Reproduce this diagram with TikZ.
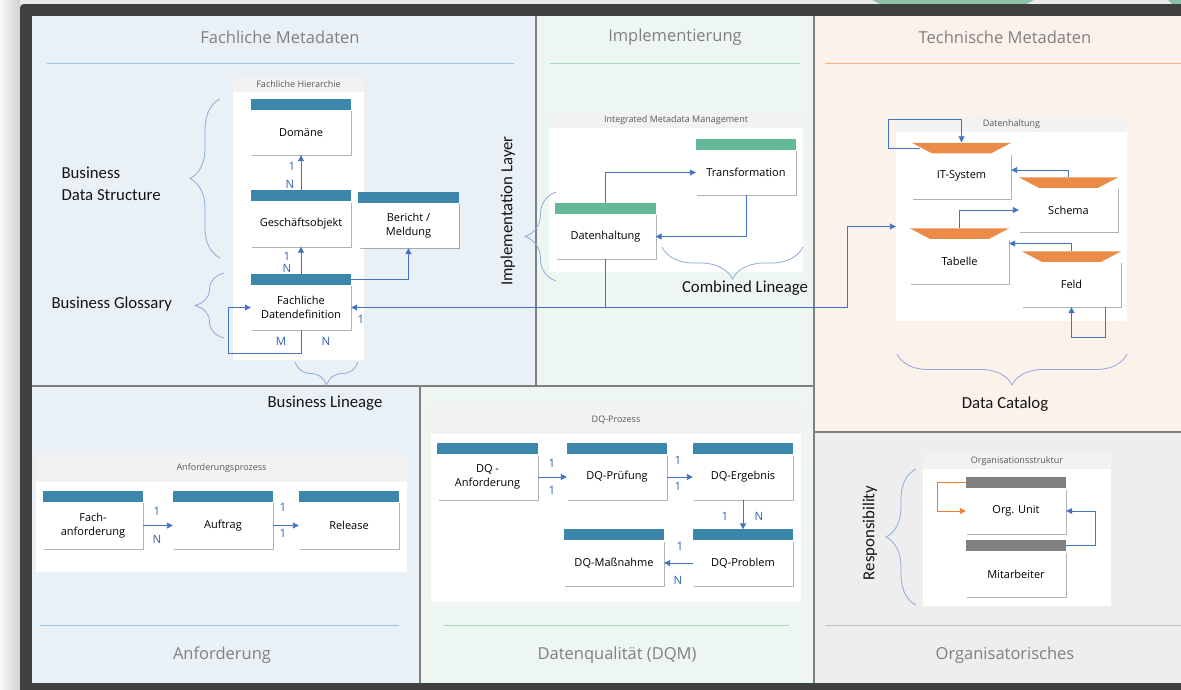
\documentclass[tikz,border=0pt]{standalone}
\usepackage{fontspec}
\setmainfont{Open Sans}
\newfontfamily\lblfont{Carlito}
\usepackage{xcolor}
\usepackage{tikz}
\usetikzlibrary{calc,arrows.meta,decorations.pathreplacing,shadows}

\definecolor{frame}{RGB}{64,64,64}
\definecolor{divider}{RGB}{128,128,128}
\definecolor{fachbg}{RGB}{234,241,246}
\definecolor{implbg}{RGB}{238,246,241}
\definecolor{techbg}{RGB}{252,242,236}
\definecolor{orgbg}{RGB}{238,238,238}
\definecolor{hdblue}{RGB}{60,134,172}
\definecolor{hdgreen}{RGB}{100,185,150}
\definecolor{hdorange}{RGB}{234,140,72}
\definecolor{hdgray}{RGB}{128,128,128}
\definecolor{linkblue}{RGB}{68,114,196}
\definecolor{cardblue}{RGB}{46,99,176}
\definecolor{bracecol}{RGB}{143,170,220}
\definecolor{titlegray}{RGB}{128,128,128}
\definecolor{lineblue}{RGB}{157,195,230}
\definecolor{linegreen}{RGB}{169,216,192}
\definecolor{lineorange}{RGB}{244,177,131}
\definecolor{linegray}{RGB}{191,191,191}
\definecolor{orangelink}{RGB}{237,125,49}
\definecolor{topgreen}{RGB}{140,192,168}

\begin{document}
\begin{tikzpicture}[x=1pt,y=-1pt,
		ptitle/.style={text=titlegray,font=\fontsize{16.5}{20}\selectfont},
		lbl/.style={text=black!92,font=\lblfont\fontsize{16.8}{22}\selectfont},
		chead/.style={fill=black!5,text=black!65,font=\fontsize{9}{11}\selectfont,inner sep=0pt,anchor=south},
		cbox/.style={fill=white,inner sep=0pt},
		ent/.style={fill=white,minimum width=100pt,minimum height=45pt,inner sep=2pt,align=center,
			font=\fontsize{11}{14.5}\selectfont,
			drop shadow={shadow xshift=1.3pt,shadow yshift=-1.3pt,opacity=.3,fill=black}},
		conn/.style={draw=linkblue,line width=.9pt,-{Triangle[length=6pt,width=6pt]}},
		card/.style={text=cardblue,font=\fontsize{11.5}{13}\selectfont,inner sep=0pt},
		brc/.style={draw=bracecol,line width=.8pt,decorate,decoration={brace,amplitude=#1}},
	]
	\useasboundingbox (0,0) rectangle (1181,689);
	% page and frame
	\fill[black!8] (0,0) rectangle (1181,689);
	\shade[left color=black!3,right color=black!18] (0,0) rectangle (20,689);
	\fill[topgreen] (872,0) -- (1034,0) -- (1026,4) -- (880,4) -- cycle;
	\fill[topgreen] (1168,0) -- (1181,0) -- (1181,4) -- (1172,4) -- cycle;
	\fill[frame,rounded corners=4pt] (20,4) rectangle (1200,710);

	% panels
	\fill[fachbg] (32,16) rectangle (536,386);
	\fill[implbg] (536,16) rectangle (814,386);
	\fill[techbg] (814,16) rectangle (1181,432);
	\fill[fachbg] (32,386) rectangle (420,683);
	\fill[implbg] (420,386) rectangle (814,683);
	\fill[orgbg] (814,432) rectangle (1181,683);
	\draw[divider,line width=2.5pt] (536,16) -- (536,386) (32,386) -- (814,386)
		(814,16) -- (814,683) (814,432) -- (1181,432) (420,386) -- (420,683);

	\node[ptitle] (tfach) at (280,37) {Fachliche Metadaten};
	\node[ptitle] (timpl) at (675,37) {Implementierung};
	\node[ptitle] (ttech) at (1005,37) {Technische Metadaten};
	\node[ptitle] (tanf) at (222,655) {Anforderung};
	\node[ptitle] (tdqm) at (617,655) {Datenqualität (DQM)};
	\node[ptitle] (torg) at (1005,655) {Organisatorisches};
	\draw[lineblue,line width=.8pt] (47,63) -- (514,63);
	\draw[linegreen,line width=.8pt] (550,63) -- (800,63);
	\draw[lineorange,line width=.8pt] (825,63) -- (1181,63);
	\draw[lineblue,line width=.8pt] (40,625) -- (399,625);
	\draw[linegreen,line width=.8pt] (444,625) -- (789,625);
	\draw[linegray,line width=.8pt] (825,625) -- (1181,625);

	% Fachliche Hierarchie
	\node[cbox,minimum width=131pt,minimum height=268pt] (fh) at (298.5,226) {};
	\node[chead,minimum width=131pt,minimum height=14pt] (fhh) at (fh.north) {Fachliche Hierarchie};
	\node[ent] (dom) at (301,132.5) {Domäne};
	\node[ent] (geo) at (301,224) {Geschäftsobjekt};
	\node[ent] (ber) at (408.5,225.5) {Bericht /\\Meldung};
	\node[ent] (ddef) at (301,307.5) {Fachliche\\Datendefinition};

	% Implementierung
	\node[cbox,minimum width=254pt,minimum height=144pt] (imm) at (676,200) {};
	\node[chead,minimum width=254pt,minimum height=14pt] (immh) at (imm.north) {Integrated Metadata Management};
	\node[ent] (trf) at (746,172.5) {Transformation};
	\node[ent] (dhi) at (605.5,236.5) {Datenhaltung};

	% Technische Metadaten
	\node[cbox,minimum width=231pt,minimum height=189pt] (dht) at (1011.5,226.5) {};
	\node[chead,minimum width=231pt,minimum height=15pt] (dhth) at (dht.north) {Datenhaltung};
	\node[ent,minimum width=99pt] (its) at (961.5,176) {IT-System};
	\node[ent,minimum width=99pt,minimum height=44pt] (sch) at (1068.5,210) {Schema};
	\node[ent,minimum width=99pt] (tab) at (959.5,261.5) {Tabelle};
	\node[ent,minimum width=99pt] (fld) at (1071.5,284.5) {Feld};

	% Organisatorisches
	\node[cbox,minimum width=188pt,minimum height=137pt] (ost) at (1017,537.5) {};
	\node[chead,minimum width=188pt,minimum height=15pt] (osth) at (ost.north) {Organisationsstruktur};
	\node[ent] (org) at (1016,511) {Org. Unit};
	\node[ent] (mit) at (1016,574) {Mitarbeiter};

	% Anforderung
	\node[cbox,minimum width=371pt,minimum height=90pt] (anf) at (221.5,527) {};
	\node[chead,minimum width=371pt,minimum height=27pt] (anfh) at (anf.north) {Anforderungsprozess};
	\node[ent,minimum height=47pt] (fach) at (93,525.5) {Fach-\\anforderung};
	\node[ent,minimum height=47pt] (auf) at (223,525.5) {Auftrag};
	\node[ent,minimum height=47pt] (rel) at (349,525.5) {Release};

	% DQ
	\node[cbox,minimum width=370pt,minimum height=168pt] (dqc) at (616,518) {};
	\node[chead,minimum width=370pt,minimum height=27pt] (dqch) at (dqc.north) {DQ-Prozess};
	\node[ent] (dqa) at (487.5,477) {DQ -\\Anforderung};
	\node[ent] (dqp) at (617,477) {DQ-Prüfung};
	\node[ent] (dqe) at (743,477) {DQ-Ergebnis};
	\node[ent] (dqm) at (614,563) {DQ-Maßnahme};
	\node[ent] (dqpr) at (743,563) {DQ-Problem};

	% headers
	\foreach \n in {dom,geo,ber,ddef,fach,auf,rel,dqa,dqp,dqe,dqm,dqpr}
		\fill[hdblue] ([yshift=11pt]\n.north west) rectangle (\n.north east);
	\foreach \n in {trf,dhi}
		\fill[hdgreen] ([yshift=11pt]\n.north west) rectangle (\n.north east);
	\foreach \n in {org,mit}
		\fill[hdgray] ([yshift=11pt]\n.north west) rectangle (\n.north east);
	\foreach \n in {its,sch,tab,fld}
		\fill[hdorange] ([yshift=10.5pt]\n.north west) -- ([yshift=10.5pt]\n.north east)
			-- ([xshift=-20pt]\n.north east) -- ([xshift=20pt]\n.north west) -- cycle;

	% connectors
	\draw[conn] ([yshift=11pt]geo.north) -- (dom.south);
	\draw[conn] ([yshift=11pt]ddef.north) -- (geo.south);
	\draw[conn] ([yshift=5.5pt]ddef.north east) -| (ber.south);
	\draw[conn] (ddef.south) -- ++(0,23) -| ([xshift=-22pt]ddef.west) -- (ddef.west);

	\draw[conn] ([yshift=11pt]dhi.north) |- (trf.west);
	\draw[conn] (trf.south) |- (dhi.east);
	\coordinate (jn) at (dhi.south |- ddef.east);
	\draw[conn] (dhi.south) -- (jn) -- (ddef.east);
	\draw[conn] (jn) -| ([xshift=-48pt]dht.west) -- (dht.west);

	\draw[conn] ([shift={(8,-5)}]its.north west) -- ++(-31,0) |- ([yshift=34pt]its.north) -- ([yshift=11pt]its.north);
	\draw[conn] ([yshift=10.5pt]sch.north) |- ([yshift=6pt]its.east);
	\draw[conn] ([yshift=10.5pt]tab.north) |- (sch.west);
	\draw[conn] ([yshift=10.5pt]fld.north) |- ([yshift=18pt]tab.east);
	\draw[conn] ([xshift=-16pt]fld.south east) -- ++(0,30) -| (fld.south);

	\draw[conn,draw=orangelink] ([yshift=5.5pt]org.north west) -- ++(-28,0) |- (org.west);
	\draw[conn] ([yshift=5.5pt]mit.north east) -- ++(29,0) |- (org.east);

	\draw[conn] (fach) -- (auf);
	\draw[conn] (auf) -- (rel);

	\draw[conn] (dqa) -- (dqp);
	\draw[conn] (dqp) -- (dqe);
	\draw[conn] (dqe.south) -- ([yshift=11pt]dqpr.north);
	\draw[conn] (dqpr) -- (dqm);

	% cardinalities
	\foreach \x/\y/\t [count=\i] in {292/166/1,290/184/N,287/256/1,287/268/N,281/341/M,326/341/N,361/319/1,
			157/511/1,157/539/N,283/507/1,283/533/1,
			552/463/1,552/490/1,678/460/1,678/486/1,725/516/1,759/516/N,680/546/1,678/580/N}
		\node[card] (card\i) at (\x,\y) {\t};

	% braces
	\draw[brc=30pt] (220,258) -- (220,99);
	\draw[brc=29pt] (224,338) -- (224,273);
	\draw[brc=23pt] (358,362) -- (295,362);
	\draw[brc=31pt] (556,281) -- (556,192);
	\draw[brc=32pt] (803,247) -- (662,247);
	\draw[brc=31pt] (1127,354) -- (897,354);
	\draw[brc=30pt] (916,605) -- (916,469);

	\node[lbl,align=left,anchor=west] (bds) at (58,184) {Business\\Data Structure};
	\node[lbl,anchor=west] (bgl) at (48,304) {Business Glossary};
	\node[lbl,rotate=90] (impl) at (508,211) {Implementation Layer};
	\node[lbl] (cli) at (745,288) {Combined Lineage};
	\node[lbl] (bli) at (325,403) {Business Lineage};
	\node[lbl] (dcat) at (1005,404) {Data Catalog};
	\node[lbl,rotate=90] (resp) at (870,533) {Responsibility};
\end{tikzpicture}
\end{document}
